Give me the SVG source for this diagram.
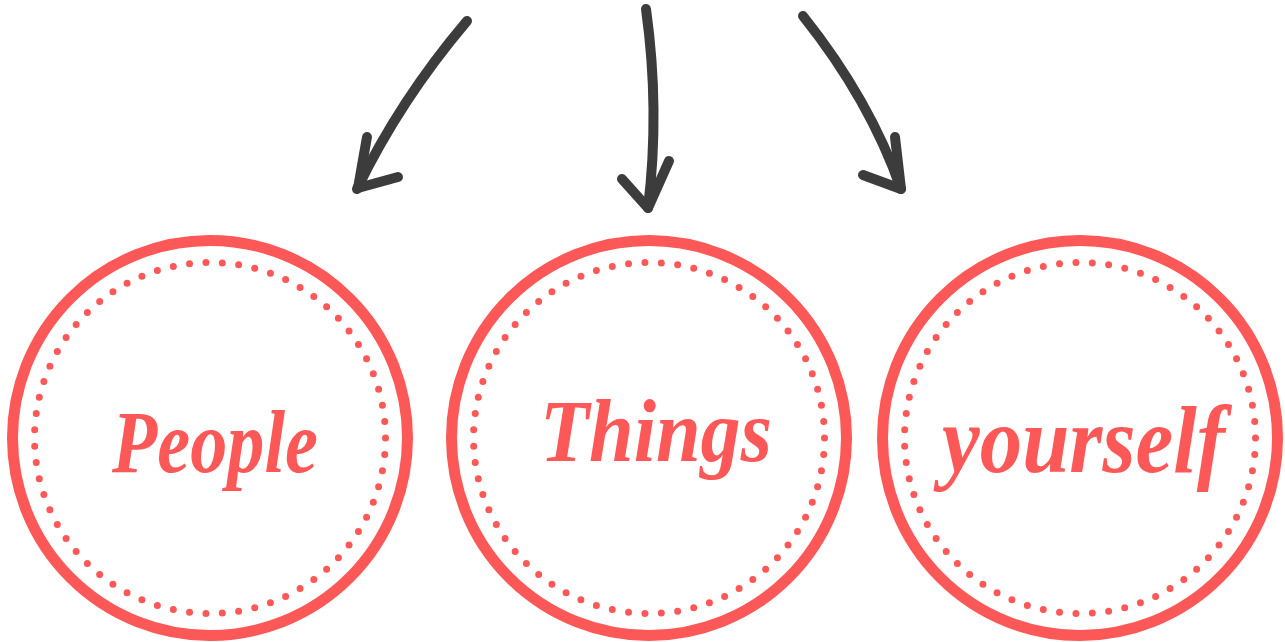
<svg xmlns="http://www.w3.org/2000/svg" width="1285" height="642" viewBox="0 0 1285 642">
<style>
.ring{fill:none;stroke:#fd5858;stroke-width:11}
.dots{fill:none;stroke:#fd5858;stroke-width:7;stroke-linecap:round;stroke-dasharray:0 1}
.lbl{fill:#fd5858;font-family:"Liberation Serif","DejaVu Serif",serif;font-style:italic;font-weight:bold}
.arr{fill:none;stroke:#3c3c3c;stroke-width:10;stroke-linecap:round;stroke-linejoin:round}
</style>
<rect width="1285" height="642" fill="#ffffff"/>
<g id="connectors">
<g id="arrow-people">
<path class="arr" d="M467,21 Q400,100 357,189"/>
<path class="arr" d="M367,137 L358,188 L398,177"/>
</g>
<g id="arrow-things">
<path class="arr" d="M646,9 Q660,110 648,208"/>
<path class="arr" d="M622,179 L648,208 L669,161"/>
</g>
<g id="arrow-yourself">
<path class="arr" d="M803,16 Q870,100 901,189"/>
<path class="arr" d="M895,137 L901,189 L863,175"/>
</g>
</g>
<g id="node-people">
<circle class="ring" cx="210" cy="438" r="197.5"/>
<circle class="dots" cx="210" cy="438" r="175.5" pathLength="67"/>
<text class="lbl" x="112" y="472" font-size="88" textLength="206" lengthAdjust="spacingAndGlyphs">People</text>
</g>
<g id="node-things">
<circle class="ring" cx="649" cy="438" r="197.5"/>
<circle class="dots" cx="649" cy="438" r="175.5" pathLength="67"/>
<text class="lbl" x="540" y="461" font-size="88" textLength="232" lengthAdjust="spacingAndGlyphs">Things</text>
</g>
<g id="node-yourself">
<circle class="ring" cx="1080" cy="438" r="197.5"/>
<circle class="dots" cx="1080" cy="438" r="175.5" pathLength="67"/>
<text class="lbl" x="942" y="472" font-size="96" textLength="283" lengthAdjust="spacingAndGlyphs">yourself</text>
</g>
</svg>
